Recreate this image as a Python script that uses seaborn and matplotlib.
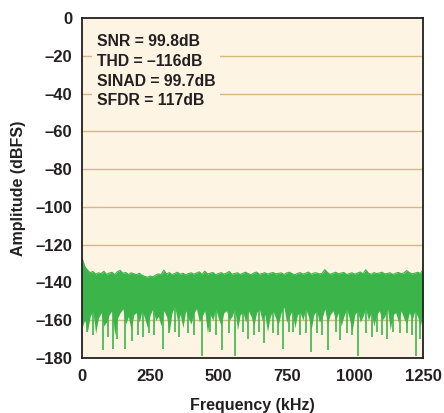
import numpy as np
import matplotlib
matplotlib.use("Agg")
import matplotlib.pyplot as plt
import seaborn as sns

# spectrum envelope, one value every 10 kHz (0..1250)
freq_khz = np.arange(0, 1251, 10)
top_db = [-127, -131.5, -133.5, -134.8, -134.2, -135.6, -134.9, -135.3, -134.1, -135.8,
          -135.0, -134.6, -135.9, -134.3, -133.6, -135.2, -134.7, -135.8, -134.9, -135.4,
          -135.9, -135.1, -136.2, -136.8, -137.2, -136.6, -137.0, -136.1, -135.5, -135.8,
          -133.5, -135.6, -134.8, -135.9, -135.2, -134.6, -135.7, -135.1, -136.0, -135.3,
          -134.9, -135.6, -135.0, -134.4, -135.8, -134.0, -135.5, -135.1, -134.7, -135.9,
          -135.3, -134.8, -135.6, -135.0, -134.2, -135.7, -135.2, -134.9, -135.8, -135.1,
          -134.6, -135.4, -135.9, -135.0, -134.5, -135.7, -135.3, -134.8, -135.6, -135.1,
          -134.7, -135.5, -135.2, -134.9, -135.8, -135.0, -134.6, -135.4, -135.9, -135.2,
          -134.8, -135.6, -135.1, -134.5, -135.7, -135.0, -134.9, -135.5, -135.2, -133.2,
          -134.8, -135.7, -135.1, -134.6, -135.5, -135.0, -134.7, -135.8, -135.3, -134.9,
          -135.6, -135.0, -134.5, -135.4, -133.3, -135.1, -135.7, -134.8, -135.3, -135.0,
          -134.6, -135.5, -135.2, -134.9, -135.8, -135.1, -134.7, -135.4, -135.0, -133.7,
          -134.8, -135.5, -135.1, -134.6, -135.2, -133.4]
bottom_db = [-164, -160, -166, -158, -155, -167, -159, -156, -163, -161,
             -157, -155, -168, -159, -156, -154, -162, -158, -165, -157,
             -156, -161, -155, -159, -164, -157, -154, -160, -158, -163,
             -155, -158, -166, -156, -153, -160, -157, -164, -155, -159,
             -162, -156, -154, -161, -158, -155, -167, -157, -160, -154,
             -159, -163, -156, -155, -160, -158, -154, -165, -157, -156,
             -161, -155, -158, -163, -156, -154, -160, -157, -166, -158,
             -155, -159, -162, -156, -153, -161, -158, -155, -164, -157,
             -156, -160, -154, -158, -165, -157, -155, -161, -159, -154,
             -162, -157, -155, -160, -156, -163, -158, -154, -159, -166,
             -157, -155, -161, -158, -154, -160, -156, -163, -157, -155,
             -160, -158, -154, -165, -157, -156, -161, -155, -159, -162,
             -156, -160, -155, -158, -163, -157]

# deep downward spikes (kHz, dBFS)
spike_khz = [20, 40, 76, 95, 114, 130, 158, 182, 205, 224, 245, 265, 296, 320, 340, 356,
             390, 410, 439, 470, 490, 512, 540, 561, 590, 609, 630, 650, 667, 700, 720, 738,
             760, 774, 800, 820, 838, 860, 880, 903, 930, 946, 970, 990, 1013, 1040, 1062,
             1080, 1100, 1117, 1140, 1166, 1190, 1210, 1223, 1239]
spike_db = [-166, -168, -176, -169, -175, -170, -175, -171, -168, -169, -167, -168, -175, -167,
            -166, -169, -167, -168, -179, -166, -168, -176, -167, -179, -166, -170, -168, -166,
            -172, -167, -168, -175, -166, -166, -168, -167, -176.6, -167, -168, -175.8, -166,
            -170.5, -167, -168, -179, -167, -169, -166, -168, -170, -166, -167, -167, -168,
            -179, -170]

x_ticks = [0, 250, 500, 750, 1000, 1250]
y_ticks = [0, -20, -40, -60, -80, -100, -120, -140, -160, -180]
y_labels = ["0", "–20", "–40", "–60", "–80", "–100", "–120", "–140", "–160", "–180"]
stats_text = ["SNR = 99.8dB", "THD = –116dB", "SINAD = 99.7dB", "SFDR = 117dB"]

bg = "#fdf4e3"
grid_c = "#d6b886"
green = "#3bb54a"
ink = "#231f20"

sns.set_theme(style="white")
plt.rcParams["font.family"] = ["Liberation Sans", "DejaVu Sans"]
plt.rcParams["font.weight"] = "bold"

fig = plt.figure(figsize=(4.44, 4.13), dpi=100)
ax = fig.add_axes([82 / 444, 1 - 358 / 413, 341 / 444, 340 / 413])
ax.set_facecolor(bg)

for yv in y_ticks[1:-1]:
    ax.axhline(yv, color=grid_c, lw=1.0, zorder=1)

ax.fill_between(freq_khz, bottom_db, top_db, color=green, lw=0, zorder=2)
sns.lineplot(x=freq_khz, y=top_db, color=green, lw=0.8, ax=ax, zorder=2)
ax.vlines(spike_khz, -152, spike_db, color=green, lw=1.2, zorder=2)

ax.text(0.044, 0.953, "\n".join(stats_text), transform=ax.transAxes, ha="left", va="top",
        fontsize=11.3, fontweight="bold", color=ink, linespacing=1.4, zorder=3,
        bbox=dict(facecolor=bg, edgecolor="none", pad=3.5))

ax.set_xlim(0, 1250)
ax.set_ylim(-180, 0)
ax.set_xticks(x_ticks)
ax.set_xticklabels([str(v) for v in x_ticks], fontsize=12, fontweight="bold", color=ink)
ax.set_yticks(y_ticks)
ax.set_yticklabels(y_labels, fontsize=12, fontweight="bold", color=ink)
ax.tick_params(axis="x", length=0, pad=8)
ax.tick_params(axis="y", length=0, pad=7)
ax.set_xlabel("Frequency (kHz)", fontsize=11.5, fontweight="bold", color=ink, labelpad=10)
ax.set_ylabel("Amplitude (dBFS)", fontsize=11.5, fontweight="bold", color=ink, labelpad=7)
for s in ax.spines.values():
    s.set_color(ink)
    s.set_linewidth(1.3)
    s.set_visible(True)

fig.savefig("out.png", dpi=100, facecolor="white")
